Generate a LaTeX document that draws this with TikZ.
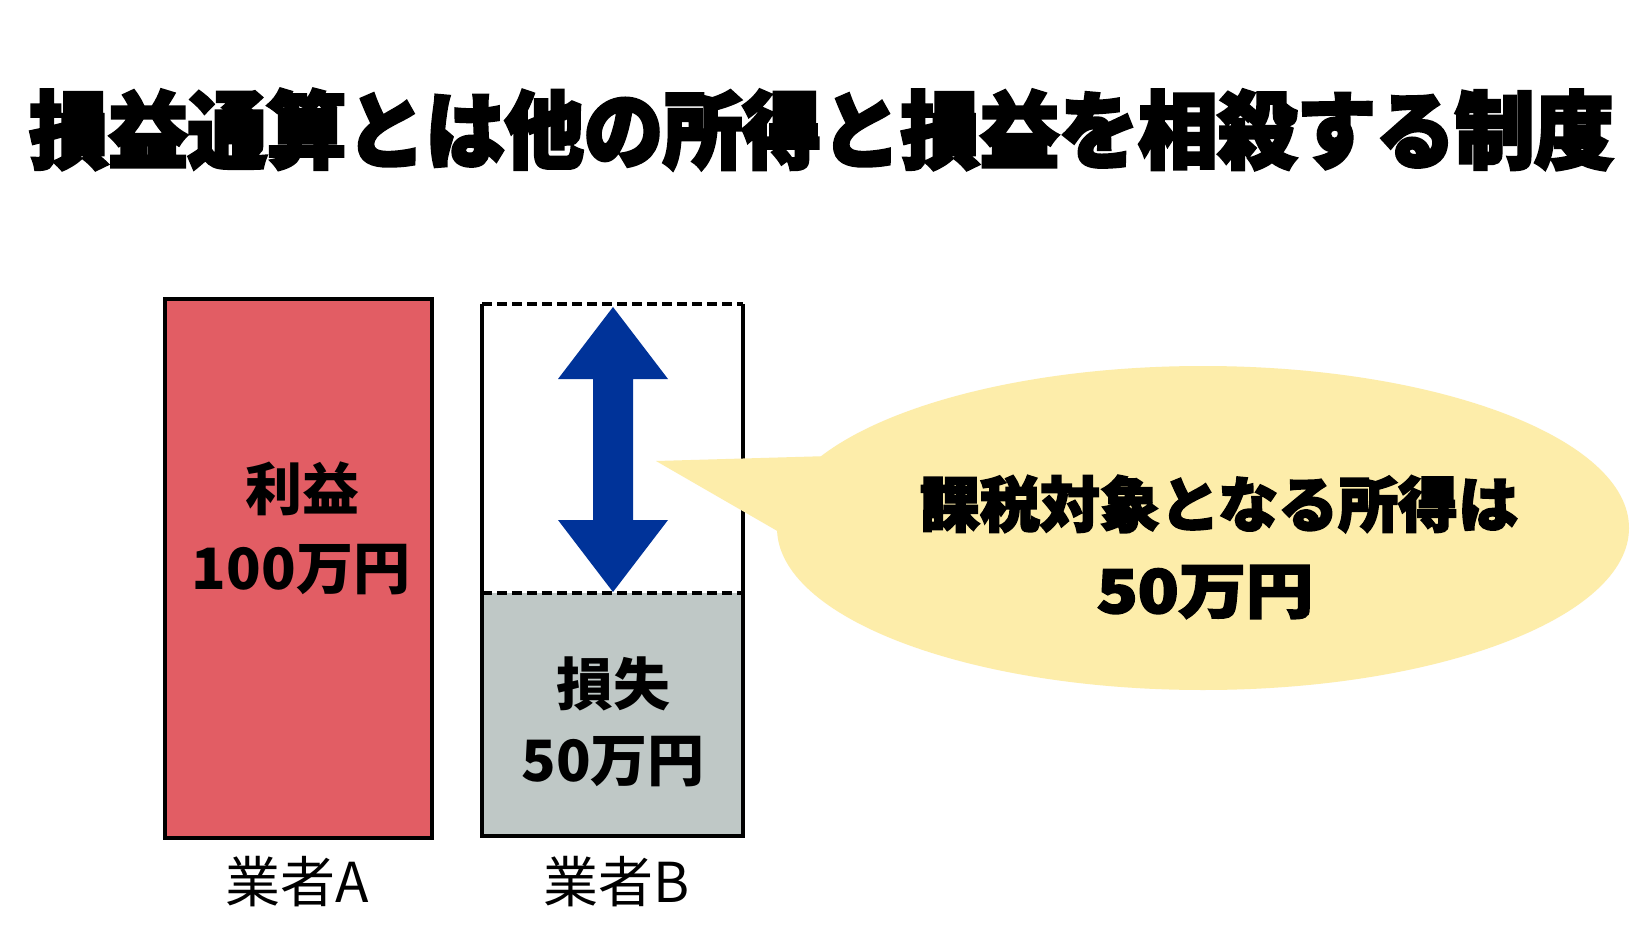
\documentclass[tikz,border=0pt]{standalone}
\usepackage{fontspec}
\usetikzlibrary{shapes.geometric}
\newfontfamily\jp{Noto Sans CJK JP}
\newfontfamily\jph{Noto Sans CJK JP}[BoldFeatures={FakeBold=3}]
\newfontfamily\jpt{Noto Sans CJK JP}[BoldFeatures={FakeBold=4}]
\definecolor{redA}{HTML}{E25D64}
\definecolor{grayB}{HTML}{BFC8C6}
\definecolor{yel}{HTML}{FDEDAA}
\definecolor{blueArr}{HTML}{003399}
\begin{document}
\begin{tikzpicture}[x=1pt,y=-1pt,
  boxline/.style={line width=4pt,black},
  dashline/.style={line width=4pt,black,dash pattern=on 10pt off 5pt},
  boxtxt/.style={inner sep=0pt,font=\jp\bfseries\fontsize{57}{60}\selectfont},
  lbltxt/.style={inner sep=0pt,font=\jp\fontsize{55}{58}\selectfont},
  heavytxt/.style={inner sep=0pt,font=\jph\bfseries\fontsize{60}{64}\selectfont}]
\useasboundingbox[fill=white] (0,0) rectangle (1650,950);
% title
\node[inner sep=0pt,font=\jpt\bfseries\fontsize{84}{88}\selectfont] (title) at (821.5,129.5)
  {\scalebox{0.943}[1]{損益通算とは他の所得と損益を相殺する制度}};
% box A
\node[draw,boxline,fill=redA,minimum width=267pt,minimum height=539pt,inner sep=0pt,anchor=north west] (boxA) at (163,297) {};
% box B
\fill[grayB] (482,593) rectangle (743,836);
\coordinate (bTL) at (482,304);
\coordinate (bTR) at (743,304);
\coordinate (bML) at (482,593);
\coordinate (bMR) at (743,593);
\coordinate (bBL) at (482,836);
\coordinate (bBR) at (743,836);
\draw[boxline,line join=miter] (bTL) -- (bBL) -- (bBR) -- (bTR);
\draw[dashline] (bTL) -- (bTR);
\draw[dashline] (bML) -- (bMR);
% double arrow
\fill[blueArr] (613,307) -- (668,379) -- (633,379) -- (633,520) -- (668,520) -- (613,592)
  -- (558,520) -- (593,520) -- (593,379) -- (558,379) -- cycle;
% callout
\node[ellipse,fill=yel,minimum width=852pt,minimum height=324pt,inner sep=0pt] (callout) at (1203,528) {};
\coordinate (tip) at (656,461);
\fill[yel] (830,456) -- (tip) -- (786,536) -- (900,560) -- cycle;
% texts
\node[boxtxt] (profit) at (302,489) {利益};
\node[boxtxt] (profitv) at (301,570) {100万円};
\node[boxtxt] (loss) at (613,684) {損失};
\node[boxtxt] (lossv) at (613,762) {50万円};
\node[lbltxt] (la) at (297,882) {業者A};
\node[lbltxt] (lb) at (617,882) {業者B};
\node[heavytxt] (c1) at (1219,504) {課税対象となる所得は};
\node[heavytxt] (c2) at (1205,592) {\scalebox{1.12}[1]{50万円}};
\end{tikzpicture}
\end{document}
